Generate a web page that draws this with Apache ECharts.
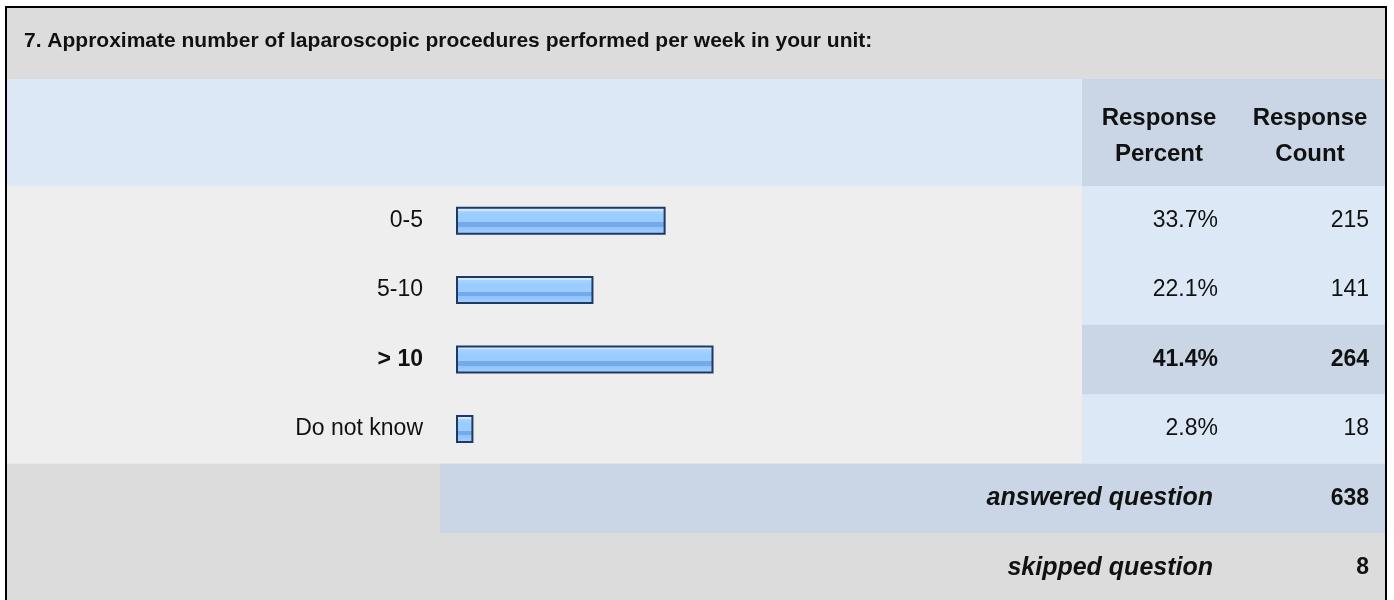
<!DOCTYPE html>
<html>
<head>
<meta charset="utf-8">
<script src="https://cdn.jsdelivr.net/npm/echarts@6/dist/echarts.min.js"></script>
<style>
  html, body { margin: 0; padding: 0; background: #ffffff; }
  #main { width: 1394px; height: 600px; }
</style>
</head>
<body>
<div id="main"></div>
<script>
var questionTitle = '7. Approximate number of laparoscopic procedures performed per week in your unit:';
var answerOptions = ['0-5', '5-10', '> 10', 'Do not know'];
var responsePercent = [33.7, 22.1, 41.4, 2.8];
var responseCount = [215, 141, 264, 18];
var answeredQuestion = 638;
var skippedQuestion = 8;

var FONT = '"Liberation Sans", Arial, sans-serif';
var maxIdx = responseCount.indexOf(Math.max.apply(null, responseCount));

// table layout
var L = 7, R = 1385, colSplit = 1082;
var rowTop = 186, rowH = 69.4;
var dataBottom = rowTop + rowH * answerOptions.length;

function rect(x, y, w, h, color) {
    return { type: 'rect', z: -10, silent: true, shape: { x: x, y: y, width: w, height: h }, style: { fill: color } };
}
function txt(x, y, text, align, font) {
    return { type: 'text', z: 10, silent: true, x: x, y: y,
        style: { text: text, align: align, verticalAlign: 'middle', fill: '#111', font: font } };
}

var graphics = [
    rect(L, 8, R - L, 71, '#dcdcdc'),
    rect(L, 79, colSplit - L, rowTop - 79, '#dce8f6'),
    rect(colSplit, 79, R - colSplit, rowTop - 79, '#cad6e5'),
    rect(L, rowTop, colSplit - L, dataBottom - rowTop, '#eeeeee'),
    rect(colSplit, rowTop, R - colSplit, dataBottom - rowTop, '#dce8f6'),
    rect(colSplit, rowTop + rowH * maxIdx, R - colSplit, rowH, '#cad6e5'),
    rect(L, dataBottom, 433, rowH, '#dcdcdc'),
    rect(440, dataBottom, R - 440, rowH, '#cad6e5'),
    rect(L, dataBottom + rowH, R - L, 600 - dataBottom - rowH, '#dcdcdc'),
    { type: 'rect', z: 20, silent: true, shape: { x: 6, y: 7, width: 1380, height: 620 },
      style: { fill: null, stroke: '#000', lineWidth: 2 } },
    txt(24, 41, questionTitle, 'left', 'bold 21px ' + FONT),
    txt(1159, 118, 'Response', 'center', 'bold 24px ' + FONT),
    txt(1159, 154, 'Percent', 'center', 'bold 24px ' + FONT),
    txt(1310, 118, 'Response', 'center', 'bold 24px ' + FONT),
    txt(1310, 154, 'Count', 'center', 'bold 24px ' + FONT),
    txt(1213, dataBottom + rowH / 2, 'answered question', 'right', 'italic bold 25px ' + FONT),
    txt(1369, dataBottom + rowH / 2, String(answeredQuestion), 'right', 'bold 23px ' + FONT),
    txt(1213, dataBottom + rowH * 1.5, 'skipped question', 'right', 'italic bold 25px ' + FONT),
    txt(1369, dataBottom + rowH * 1.5, String(skippedQuestion), 'right', 'bold 23px ' + FONT)
];

function colLabel(list, fmt) {
    return function (v, i) {
        var s = fmt(list[i]);
        return i === maxIdx ? '{b|' + s + '}' : '{n|' + s + '}';
    };
}
var rich = {
    n: { fontFamily: FONT, fontSize: 23, color: '#111' },
    b: { fontFamily: FONT, fontSize: 23, fontWeight: 'bold', color: '#111' }
};

var myChart = echarts.init(document.getElementById('main'));
myChart.setOption({
    animation: false,
    grid: { left: 456, top: rowTop, width: 622, height: dataBottom - rowTop, containLabel: false },
    xAxis: { type: 'value', min: 0, max: 100, show: false },
    yAxis: [{
        type: 'category', inverse: true, data: answerOptions,
        axisLine: { show: false }, axisTick: { show: false }, splitLine: { show: false },
        axisLabel: { margin: 33, formatter: colLabel(answerOptions, function (s) { return s; }), rich: rich }
    }, {
        type: 'category', inverse: true, data: answerOptions, position: 'right',
        axisLine: { show: false }, axisTick: { show: false },
        axisLabel: { margin: 140, align: 'right', formatter: colLabel(responsePercent, function (p) { return p.toFixed(1) + '%'; }), rich: rich }
    }, {
        type: 'category', inverse: true, data: answerOptions, position: 'right',
        axisLine: { show: false }, axisTick: { show: false },
        axisLabel: { margin: 291, align: 'right', formatter: colLabel(responseCount, function (c) { return String(c); }), rich: rich }
    }],
    series: [{
        type: 'bar',
        data: responsePercent,
        barWidth: 28,
        itemStyle: {
            borderColor: '#1e3a62',
            borderWidth: 2,
            color: new echarts.graphic.LinearGradient(0, 0, 0, 1, [
                { offset: 0, color: '#cfe6ff' },
                { offset: 0.14, color: '#cfe6ff' },
                { offset: 0.14, color: '#a9d3ff' },
                { offset: 0.32, color: '#99ccff' },
                { offset: 0.56, color: '#99ccff' },
                { offset: 0.56, color: '#76a9ec' },
                { offset: 0.72, color: '#76a9ec' },
                { offset: 0.72, color: '#8fc3fd' },
                { offset: 1, color: '#a3d0ff' }
            ])
        }
    }],
    graphic: graphics
});
</script>
</body>
</html>
